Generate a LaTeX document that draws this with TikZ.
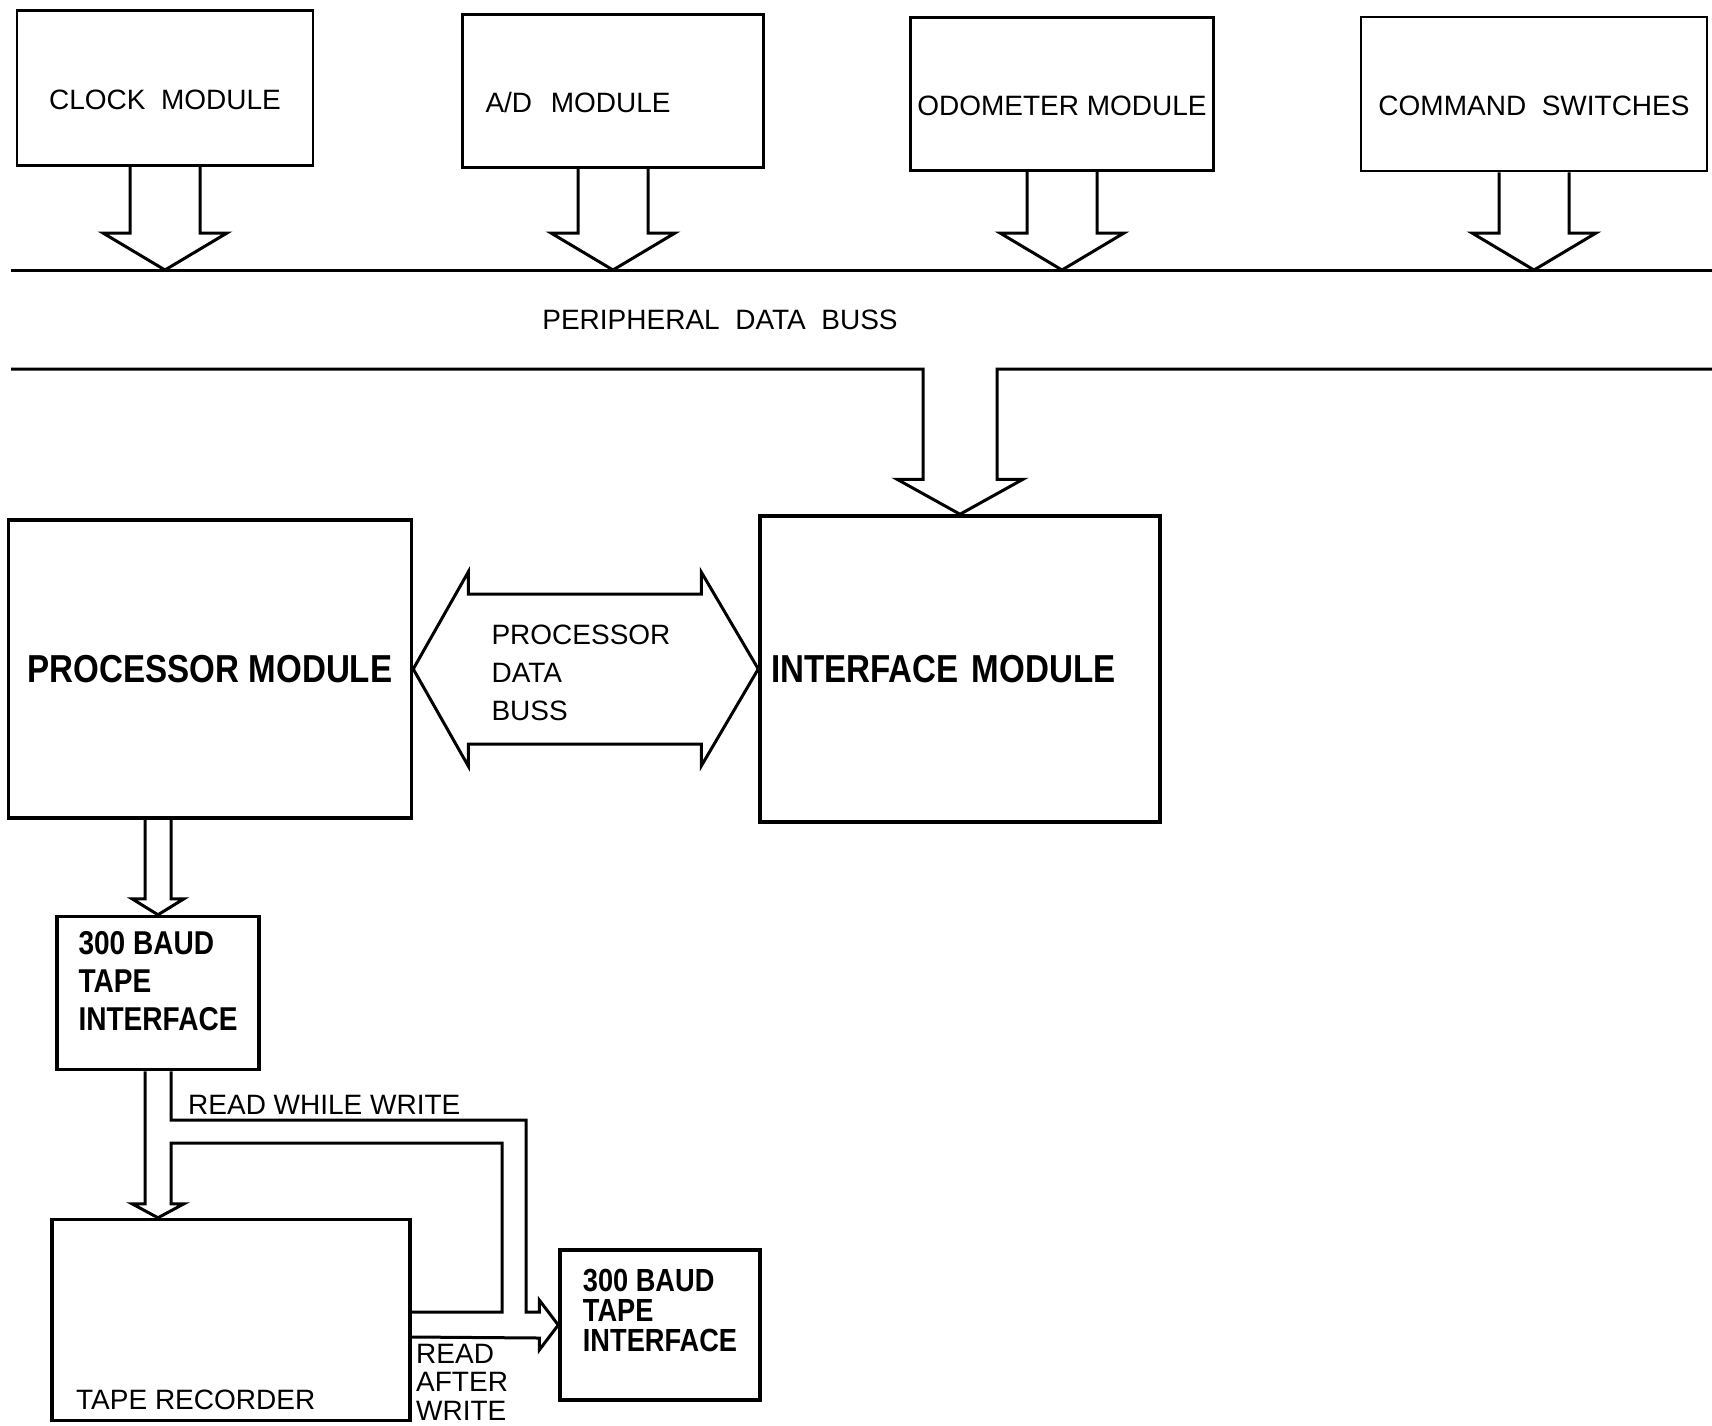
\documentclass[tikz,border=0pt]{standalone}
\usepackage{fontspec}
\setmainfont{Liberation Sans}
\newfontfamily\condfont[FakeStretch=0.85]{Liberation Sans}
\usetikzlibrary{calc}

\begin{document}
\begin{tikzpicture}[x=1pt, y=-1pt,
  module/.style={draw, line width=2.5pt, text height=42pt, text depth=0pt, font=\fontsize{28}{34}\selectfont},
  bigbox/.style={draw, line width=3.5pt, font=\condfont\bfseries\fontsize{39}{46}\selectfont},
  tapebox/.style={draw, line width=3.5pt, align=left, font=\condfont\bfseries\fontsize{33}{38}\selectfont},
  hollow/.style={line width=3pt},
  lbl/.style={inner sep=0pt, font=\fontsize{28}{34}\selectfont}]
\useasboundingbox (0,0) rectangle (1712,1425);

% peripheral modules
\node[module, minimum width=296, minimum height=155] (clock) at (165,88) {CLOCK\ \ MODULE};
\node[module, minimum width=301, minimum height=153, text width=255, align=left] (ad) at (613,91) {A/D\ \ MODULE};
\node[module, minimum width=303, minimum height=153] (odo) at (1062,94) {ODOMETER MODULE};
\node[module, minimum width=346, minimum height=154] (cmd) at (1534,94) {COMMAND\ \ SWITCHES};

% peripheral data buss
\coordinate (busA) at (11,270);
\coordinate (busB) at (1712,270);
\coordinate (busC) at (11,369);
\coordinate (busD) at (1712,369);
\draw[hollow] (busA) -- (busB);
\node[lbl] (pdb) at (720,320) {PERIPHERAL\ \ DATA\ \ BUSS};

\foreach \m in {clock,ad,odo,cmd}
  \draw[hollow] ($(\m.south)+(-35,0)$) -- ($(\m.south |- busA)+(-35,-37)$) -- ++(-27,0)
    -- (\m.south |- busA) -- ++(62,-37) -- ++(-27,0) -- ($(\m.south)+(35,0)$);

% processor and interface
\node[bigbox, minimum width=403, minimum height=298] (proc) at (210,669) {PROCESSOR MODULE};
\node[bigbox, minimum width=400, minimum height=306, text width=378, align=left] (iface) at (960,669) {INTERFACE MODULE};

\draw[hollow] (busC) -| ($(iface.north)+(-37,-35)$) -- ++(-26,0) -- (iface.north)
  -- ++(63,-35) -- ++(-26,0) |- (busD);

\draw[hollow] (proc.east) -- ++(55,-97) -- ++(0,22) -- ($(iface.west)+(-57,-75)$) -- ++(0,-22)
  -- (iface.west) -- ++(-57,97) -- ++(0,-22) -- ($(proc.east)+(55,75)$) -- ++(0,22) -- cycle;
\node[lbl, align=left, font=\fontsize{28}{38}\selectfont] (pdblbl) at (581,673) {PROCESSOR\\DATA\\BUSS};

% tape side
\node[tapebox, minimum width=202, minimum height=153, text depth=24pt] (baud1) at (158,993) {300 BAUD\\TAPE\\INTERFACE};
\node[draw, line width=3.5pt, minimum width=358, minimum height=201] (rec) at (231,1320) {};
\node[tapebox, minimum width=200, minimum height=150, text depth=30pt,
  font=\condfont\bfseries\fontsize{32}{30}\selectfont] (baud2) at (660,1325) {300 BAUD\\TAPE\\INTERFACE};
\node[lbl, anchor=west] (reclbl) at (76,1400) {TAPE RECORDER};

\draw[hollow] ($(baud1.north |- proc.south)+(-13,0)$) -- ($(baud1.north)+(-13,-16)$) -- ++(-13,0)
  -- (baud1.north) -- ++(26,-16) -- ++(-13,0) -- ($(baud1.north |- proc.south)+(13,0)$);

\coordinate (rww) at (526,1120);
\coordinate (raw) at (502,1143);
\draw[hollow] ($(baud1.south)+(-13,0)$) -- ($(baud1.south |- rec.north)+(-13,-14)$) -- ++(-13,0)
  -- (baud1.south |- rec.north) -- ++(26,-14) -- ++(-13,0) |- (raw)
  |- ($(rec.east |- baud2.west)+(0,-13)$);
\draw[hollow] ($(baud1.south)+(13,0)$) |- (rww) |- ($(baud2.west)+(-19,-13)$) -- ++(0,-12)
  -- (baud2.west) -- ++(-19,25) -- ++(0,-12) -- ($(rec.east |- baud2.west)+(0,12)$);

\node[lbl, anchor=base west] (rwwlbl) at (188,1114) {READ WHILE WRITE};
\node[lbl, align=left, anchor=north west, font=\fontsize{28}{28.5}\selectfont] (rawlbl) at (416,1344) {READ\\AFTER\\WRITE};
\end{tikzpicture}
\end{document}
